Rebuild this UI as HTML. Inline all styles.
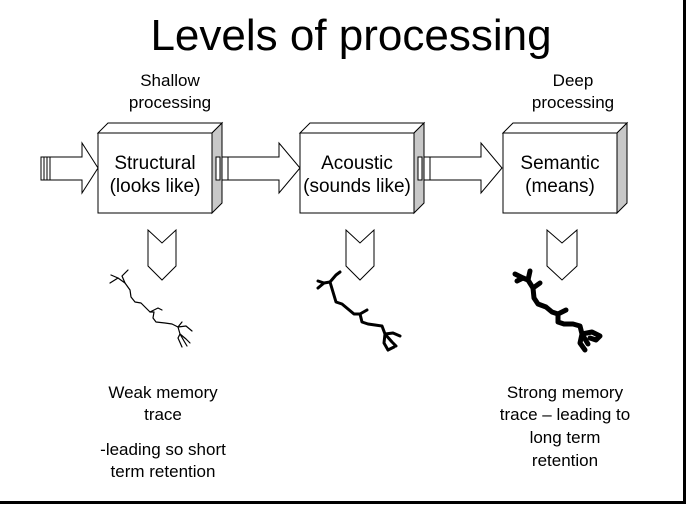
<!DOCTYPE html>
<html><head><style>
body{margin:0;width:686px;height:504px;overflow:hidden;background:#fff}
svg text{font-family:"Liberation Sans",Arial,sans-serif;fill:#000}
</style></head><body>
<svg width="686" height="504" viewBox="0 0 686 504" xmlns="http://www.w3.org/2000/svg">
<rect x="0" y="0" width="686" height="504" fill="#fff"/>
<line x1="684.5" y1="0" x2="684.5" y2="504" stroke="#000" stroke-width="3"/>
<line x1="0" y1="502.5" x2="686" y2="502.5" stroke="#000" stroke-width="3"/>
<text x="351" y="50" font-size="44" text-anchor="middle">Levels of processing</text>
<g font-size="17" text-anchor="middle">
<text x="170" y="86">Shallow</text><text x="170" y="108">processing</text>
<text x="573" y="86">Deep</text><text x="573" y="108">processing</text>
</g>
<g stroke="#000" stroke-width="1" fill="#fff">
<rect x="41" y="157" width="3" height="23"/><rect x="44" y="157" width="3" height="23"/><rect x="47" y="157" width="3" height="23"/>
<polygon points="50,157 82,157 82,143 98,168 82,193 82,180 50,180"/>
<rect x="216" y="157" width="4" height="23"/><rect x="220" y="157" width="8" height="23"/>
<polygon points="228,157 279,157 279,143 300,168 279,193 279,180 228,180"/>
<rect x="418" y="157" width="4" height="23"/><rect x="422" y="157" width="8" height="23"/>
<polygon points="430,157 481,157 481,143 502,168 481,193 481,180 430,180"/>
</g>
<g stroke="#000" stroke-width="1">
<polygon points="98,133 108,123 222,123 212,133" fill="#fff"/>
<polygon points="212,133 222,123 222,203 212,213" fill="#c8c8c8"/>
<rect x="98" y="133" width="114" height="80" fill="#fff"/>
<polygon points="300,133 310,123 424,123 414,133" fill="#fff"/>
<polygon points="414,133 424,123 424,203 414,213" fill="#c8c8c8"/>
<rect x="300" y="133" width="114" height="80" fill="#fff"/>
<polygon points="503,133 513,123 627,123 617,133" fill="#fff"/>
<polygon points="617,133 627,123 627,203 617,213" fill="#c8c8c8"/>
<rect x="503" y="133" width="114" height="80" fill="#fff"/>
<rect x="216" y="157" width="4" height="23" fill="#fff"/>
<rect x="418" y="157" width="4" height="23" fill="#fff"/>
</g>
<g font-size="19" text-anchor="middle">
<text x="155" y="169">Structural</text><text x="155" y="192">(looks like)</text>
<text x="357" y="169">Acoustic</text><text x="357" y="192">(sounds like)</text>
<text x="560" y="169">Semantic</text><text x="560" y="192">(means)</text>
</g>
<g stroke="#000" stroke-width="1" fill="#fff">
<polygon points="148,230 162,243 176,230 176,266 162,280 148,266"/>
<polygon points="346,230 360,243 374,230 374,266 360,280 346,266"/>
<polygon points="547,230 562,243 577,230 577,266 562,280 547,266"/>
</g>
<g fill="none" stroke="#000" stroke-linecap="round" stroke-linejoin="round">
<g stroke-width="1.2">
<polyline points="111,275 118,278 125,283 130,290 131,297 135,302 141,303 146,308 150,312 154,312 153,318 156,322 165,323 172,324 178,327 180,334 178,338 182,347"/>
<polyline points="125,283 122,276 128,270"/>
<polyline points="118,278 110,283"/>
<polyline points="150,312 158,308 162,310"/>
<polyline points="178,327 186,326 192,331"/>
<polyline points="180,334 186,339 190,343"/>
<polyline points="180,334 184,341 187,346"/>
<polyline points="178,327 182,322"/>
</g>
<g stroke-width="3">
<polyline points="318,288 324,283 330,282 333,292 336,302 342,304 348,309 354,314 360,314 362,322 368,324 375,325 382,326 385,334 384,343 388,350"/>
<polyline points="330,282 336,275 340,272"/>
<polyline points="324,283 318,281"/>
<polyline points="385,334 393,333 400,336"/>
<polyline points="385,334 392,342 396,346"/>
<polyline points="360,314 367,310"/>
<polyline points="388,350 394,347"/>
</g>
<g stroke-width="5">
<polyline points="517,281 523,278 528,280 533,288 534,298 538,304 546,307 552,312 558,314 558,322 564,324 573,324 580,326 582,334 580,343 585,350"/>
<polyline points="528,280 530,271"/>
<polyline points="523,278 515,274"/>
<polyline points="533,288 540,283"/>
<polyline points="558,314 566,310"/>
<polyline points="582,334 592,332 600,336 596,340 590,338"/>
<polyline points="582,334 588,344"/>
</g>
</g>
<g font-size="17" text-anchor="middle">
<text x="163" y="398">Weak memory</text><text x="163" y="420">trace</text>
<text x="163" y="455">-leading so short</text><text x="163" y="477">term retention</text>
<text x="565" y="398">Strong memory</text><text x="565" y="420">trace – leading to</text>
<text x="565" y="443">long term</text><text x="565" y="466">retention</text>
</g>
</svg>
</body></html>
